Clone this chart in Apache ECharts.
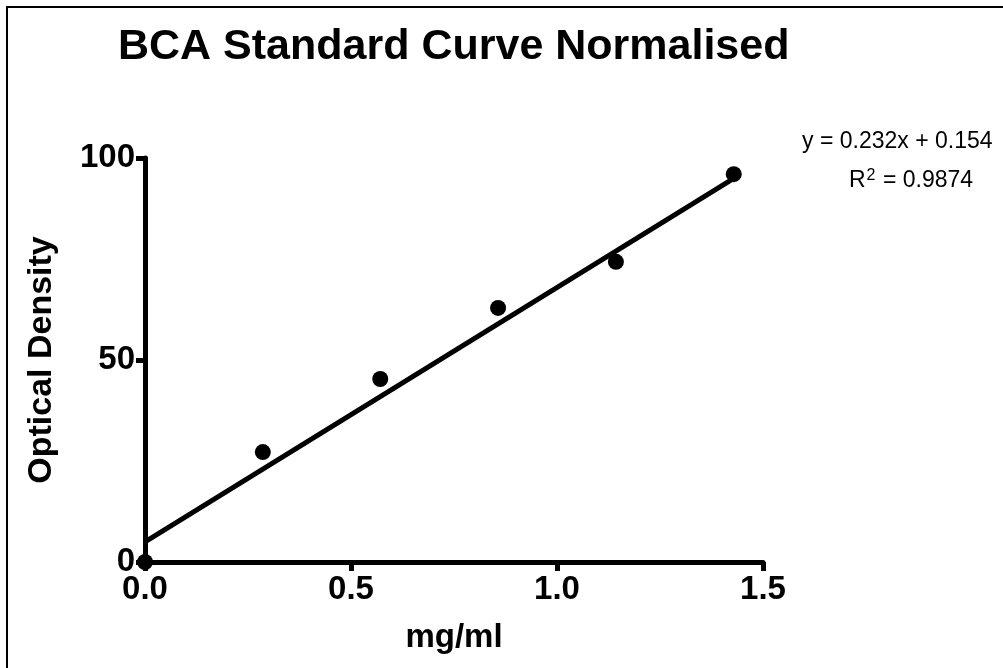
<!DOCTYPE html>
<html>
<head>
<meta charset="utf-8">
<script src="https://cdn.jsdelivr.net/npm/echarts@6/dist/echarts.min.js"></script>
<style>
  html, body { margin: 0; padding: 0; background: #fff; }
  #main { width: 1003px; height: 668px; }
</style>
</head>
<body>
<div id="main"></div>
<script>
// 数据
const concentration = [0, 0.286, 0.571, 0.857, 1.143, 1.429]
const density = [0, 27.2, 45.3, 62.9, 74.3, 96.0]
const fitX = [0, 1.43]
const fitY = [5.0, 95.0]
const xTicks = [0, 0.5, 1.0, 1.5]
const yTicks = [0, 50, 100]

const font = 'Liberation Sans, Arial, sans-serif'
const myChart = echarts.init(document.getElementById('main'))

myChart.setOption({
  animation: false,
  title: {
    text: 'BCA Standard Curve Normalised',
    left: 113,
    top: 21,
    textStyle: { fontFamily: font, fontSize: 43, fontWeight: 'bold', color: '#000' }
  },
  grid: { left: 145, right: 240, top: 158, bottom: 106, containLabel: false },
  xAxis: {
    type: 'value',
    min: xTicks[0],
    max: xTicks[xTicks.length - 1],
    interval: 0.5,
    name: 'mg/ml',
    nameLocation: 'middle',
    nameGap: 59,
    nameTextStyle: { fontFamily: font, fontSize: 33, fontWeight: 'bold', color: '#000' },
    axisLine: { lineStyle: { color: '#000', width: 5 } },
    axisTick: { length: 9, lineStyle: { color: '#000', width: 5 } },
    splitLine: { show: false },
    axisLabel: {
      margin: 11,
      fontFamily: font, fontSize: 33, fontWeight: 'bold', color: '#000',
      formatter: (v) => v.toFixed(1)
    }
  },
  yAxis: {
    type: 'value',
    min: yTicks[0],
    max: yTicks[yTicks.length - 1],
    interval: 50,
    name: 'Optical Density',
    nameLocation: 'middle',
    nameGap: 86,
    nameTextStyle: { fontFamily: font, fontSize: 34, fontWeight: 'bold', color: '#000' },
    axisLine: { show: true, lineStyle: { color: '#000', width: 5 } },
    axisTick: { show: true, length: 9, lineStyle: { color: '#000', width: 5 } },
    splitLine: { show: false },
    axisLabel: {
      margin: 10,
      fontFamily: font, fontSize: 33, fontWeight: 'bold', color: '#000'
    }
  },
  graphic: [
    {
      type: 'rect',
      shape: { x: 7, y: 7, width: 1100, height: 700 },
      style: { fill: 'none', stroke: '#000', lineWidth: 2 },
      silent: true
    },
    {
      type: 'text',
      x: 802,
      y: 142,
      style: {
        text: 'y = 0.232x + 0.154',
        font: '23px ' + font,
        fill: '#000',
        align: 'left',
        verticalAlign: 'middle'
      }
    },
    {
      type: 'text',
      x: 849,
      y: 181,
      style: {
        text: '{n|R}{s|2}{n| = 0.9874}',
        fill: '#000',
        align: 'left',
        verticalAlign: 'middle',
        rich: {
          n: { fontFamily: font, fontSize: 23, color: '#000' },
          s: { fontFamily: font, fontSize: 16, color: '#000', verticalAlign: 'top', padding: [0, 1, 10, 1] }
        }
      }
    }
  ],
  series: [
    {
      type: 'line',
      data: fitX.map((x, i) => [x, fitY[i]]),
      showSymbol: false,
      lineStyle: { color: '#000', width: 5 },
      z: 2
    },
    {
      type: 'scatter',
      data: concentration.map((x, i) => [x, density[i]]),
      symbolSize: 16,
      itemStyle: { color: '#000', opacity: 1 },
      clip: false,
      z: 3
    }
  ]
})
</script>
</body>
</html>
